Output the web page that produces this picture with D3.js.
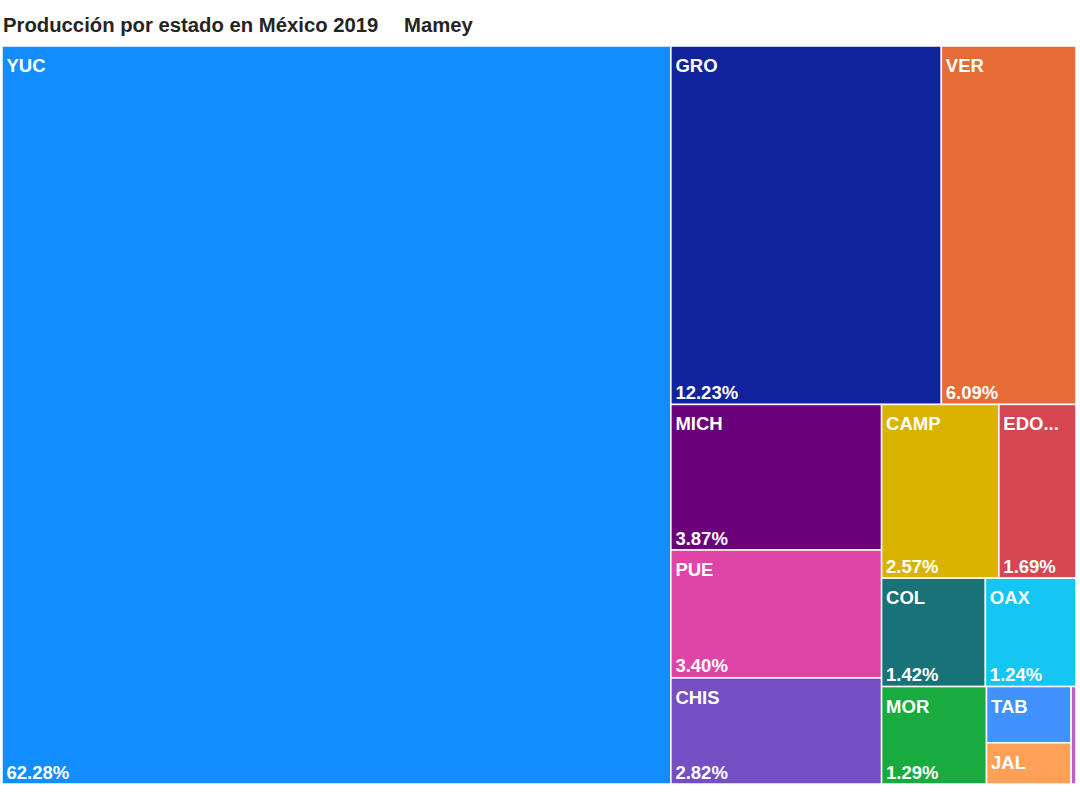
<!DOCTYPE html>
<html>
<head>
<meta charset="utf-8">
<script src="https://cdn.jsdelivr.net/npm/d3@7"></script>
<style>
  html, body { margin: 0; padding: 0; background: #fff; }
  svg { display: block; }
  text { font-family: "Liberation Sans", Arial, sans-serif; font-weight: bold; }
</style>
</head>
<body>
<svg id="chart" width="1080" height="797"></svg>
<script>
// ---- data ----
const titleText = "Producción por estado en México 2019";
const cropText = "Mamey";
const states = ["YUC", "GRO", "VER", "MICH", "PUE", "CHIS", "CAMP", "EDO...", "COL", "MOR", "OAX", "TAB", "JAL", "OTRO"];
const shares = [62.28, 12.23, 6.09, 3.87, 3.40, 2.82, 2.57, 1.69, 1.42, 1.29, 1.24, 0.60, 0.44, 0.06];
const colors = ["#118DFF", "#12239E", "#E66C37", "#6B007B", "#E044A7", "#744EC2", "#D9B300",
                "#D64550", "#197278", "#1AAB40", "#15C6F4", "#4092FF", "#FFA058", "#BE5DC9"];

// grouping of the tiles (row = side by side, col = stacked)
const tiling = {dir: "row", children: [
  "YUC",
  {dir: "col", children: [
    {dir: "row", children: ["GRO", "VER"]},
    {dir: "row", children: [
      {dir: "col", children: ["MICH", "PUE", "CHIS"]},
      {dir: "col", children: [
        {dir: "row", children: ["CAMP", "EDO..."]},
        {dir: "row", children: ["COL", "OAX"]},
        {dir: "row", children: ["MOR", {dir: "col", children: ["TAB", "JAL"]}, "OTRO"]}
      ]}
    ]}
  ]}
]};

// ---- build ----
const svg = d3.select("#chart");
const box = {x0: 2, y0: 46, x1: 1076, y1: 784};

function toNode(spec) {
  if (typeof spec === "string") {
    const i = states.indexOf(spec);
    return {name: spec, value: shares[i], color: colors[i]};
  }
  return {dir: spec.dir, children: spec.children.map(toNode)};
}

const root = d3.hierarchy(toNode(tiling)).sum(d => d.value || 0);
const total = d3.sum(shares);

d3.treemap()
  .size([box.x1 - box.x0, box.y1 - box.y0])
  .tile((node, x0, y0, x1, y1) => {
    (node.data.dir === "row" ? d3.treemapDice : d3.treemapSlice)(node, x0, y0, x1, y1);
  })(root);

// title
svg.append("text")
  .attr("x", 3).attr("y", 32)
  .attr("font-size", 20.3)
  .attr("fill", "#252423")
  .text(titleText);
svg.append("text")
  .attr("x", 404).attr("y", 32)
  .attr("font-size", 20.3)
  .attr("fill", "#252423")
  .text(cropText);

const g = svg.append("g").attr("transform", `translate(${box.x0},${box.y0})`);
const leaves = root.leaves();

const cell = g.selectAll("g.cell").data(leaves).join("g").attr("class", "cell");

cell.append("rect")
  .attr("x", d => d.x0)
  .attr("y", d => d.y0)
  .attr("width", d => Math.max(0, d.x1 - d.x0))
  .attr("height", d => Math.max(0, d.y1 - d.y0))
  .attr("fill", d => d.data.color)
  .attr("stroke", "#ffffff")
  .attr("stroke-width", 1.5);

const fmt = d3.format(".2f");

cell.each(function(d) {
  const sel = d3.select(this);
  const w = d.x1 - d.x0, h = d.y1 - d.y0;
  if (h < 30) return;
  const name = sel.append("text")
    .attr("x", d.x0 + 4.5)
    .attr("y", d.y0 + 26)
    .attr("font-size", 18.5)
    .attr("fill", "#fff")
    .text(d.data.name);
  if (name.node().getComputedTextLength() + 8 > w) { name.remove(); return; }
  if (h >= 70) {
    const pct = sel.append("text")
      .attr("x", d.x0 + 4.5)
      .attr("y", d.y1 - 5.5)
      .attr("font-size", 18.5)
      .attr("fill", "#fff")
      .text(fmt(d.value / total * 100) + "%");
    if (pct.node().getComputedTextLength() + 8 > w) pct.remove();
  }
});
</script>
</body>
</html>
